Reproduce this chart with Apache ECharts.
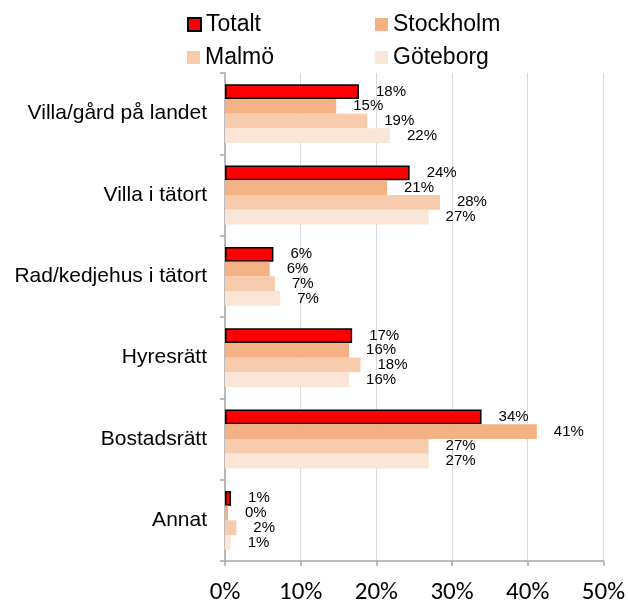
<!DOCTYPE html>
<html>
<head>
<meta charset="utf-8">
<script src="https://cdn.jsdelivr.net/npm/echarts@6/dist/echarts.min.js"></script>
<style>
  html, body { margin: 0; padding: 0; background: #ffffff; }
  #chart { width: 628px; height: 606px; }
</style>
</head>
<body>
<div id="chart"></div>
<script>
// categories top to bottom
const categories = ["Villa/gård på landet", "Villa i tätort", "Rad/kedjehus i tätort", "Hyresrätt", "Bostadsrätt", "Annat"];
const totalt = [17.7, 24.4, 6.4, 16.8, 33.9, 0.8];
const stockholm = [14.7, 21.4, 5.9, 16.4, 41.2, 0.4];
const malmo = [18.8, 28.4, 6.6, 17.9, 26.9, 1.5];
const goteborg = [21.8, 26.9, 7.3, 16.4, 26.9, 0.75];
const xTicks = [0, 10, 20, 30, 40, 50];

const labelStyle = {
  show: true,
  position: "right",
  distance: 17,
  fontFamily: "Liberation Sans, Arial",
  fontSize: 15,
  color: "#000000",
  formatter: (p) => Math.round(p.value) + "%",
};

function makeSeries(name, data, color, border) {
  return {
    name: name,
    type: "bar",
    data: data,
    barGap: "0%",
    barCategoryGap: "27.7%",
    itemStyle: border
      ? { color: color, borderColor: "#000000", borderWidth: 1.5 }
      : { color: color },
    label: labelStyle,
    silent: true,
  };
}

const legendText = { fontFamily: "Liberation Sans, Arial", fontSize: 23, color: "#000000" };
function legendAt(name, left, top) {
  return {
    data: [name],
    left: left,
    top: top,
    icon: "rect",
    itemWidth: 13,
    itemHeight: 13,
    itemGap: 0,
    textStyle: legendText,
    selectedMode: false,
    padding: 0,
  };
}

const chart = echarts.init(document.getElementById("chart"));
chart.setOption({
  animation: false,
  legend: [
    legendAt("Totalt", 187, 13),
    legendAt("Stockholm", 375, 13),
    legendAt("Malmö", 187, 46),
    legendAt("Göteborg", 375, 46),
  ],
  grid: { left: 225, right: 24, top: 73, bottom: 45, containLabel: false },
  xAxis: {
    type: "value",
    min: xTicks[0],
    max: xTicks[xTicks.length - 1],
    interval: 10,
    axisLine: { show: true, lineStyle: { color: "#a6a6a6", width: 1.5 } },
    axisTick: { show: true, length: 5, lineStyle: { color: "#a6a6a6", width: 1.5 } },
    splitLine: { show: true, lineStyle: { color: "#d9d9d9", width: 1 } },
    axisLabel: {
      formatter: "{value}%",
      fontFamily: "Carlito, Lato",
      fontSize: 25,
      color: "#000000",
      margin: 19,
    },
  },
  yAxis: {
    type: "category",
    data: categories,
    inverse: true,
    axisLine: { show: true, lineStyle: { color: "#a6a6a6", width: 1.5 } },
    axisTick: { show: true, length: 5, inside: false, lineStyle: { color: "#a6a6a6", width: 1.5 } },
    axisLabel: {
      fontFamily: "Liberation Sans, Arial",
      fontSize: 21,
      color: "#000000",
      margin: 18,
    },
  },
  series: [
    makeSeries("Totalt", totalt, "#ff0000", true),
    makeSeries("Stockholm", stockholm, "#f4b183", false),
    makeSeries("Malmö", malmo, "#f8cbad", false),
    makeSeries("Göteborg", goteborg, "#fbe5d6", false),
  ],
});
</script>
</body>
</html>
